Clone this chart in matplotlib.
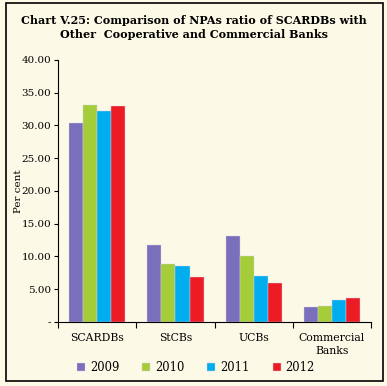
import numpy as np
import matplotlib
matplotlib.use("Agg")
import matplotlib.pyplot as plt
from matplotlib.patches import Rectangle

# data
categories = ["SCARDBs", "StCBs", "UCBs", "Commercial\nBanks"]
years = ["2009", "2010", "2011", "2012"]
npa_2009 = [30.3, 11.8, 13.1, 2.3]
npa_2010 = [33.1, 8.9, 10.1, 2.45]
npa_2011 = [32.2, 8.6, 7.0, 3.3]
npa_2012 = [33.0, 6.8, 5.9, 3.7]
series = [npa_2009, npa_2010, npa_2011, npa_2012]
colors = ["#7a6fba", "#a4cd39", "#00aeef", "#ed1c24"]
yticks = [0, 5, 10, 15, 20, 25, 30, 35, 40]
ytick_labels = ["-"] + ["%.2f" % v for v in yticks[1:]]

bg = "#fdf9e7"
plt.rcParams["font.family"] = ["DejaVu Serif"]

fig = plt.figure(figsize=(3.87, 3.86), dpi=100)
fig.patch.set_facecolor(bg)
fig.patches.append(Rectangle((6 / 387, 5 / 386), 377 / 387, 378 / 386,
                             transform=fig.transFigure, fill=False,
                             edgecolor="black", linewidth=1.2))

ax = fig.add_axes([0.150, 0.166, 0.809, 0.679])
ax.set_facecolor(bg)

x = np.arange(len(categories))
w = 0.18
for i, (vals, c, yr) in enumerate(zip(series, colors, years)):
    ax.bar(x + (i - 1.5) * w, vals, width=w, color=c, label=yr,
           edgecolor="#d8d0e8", linewidth=0.3)

ax.set_xlim(-0.5, len(categories) - 0.5)
ax.set_ylim(0, 40)
ax.set_yticks(yticks)
ax.set_yticklabels(ytick_labels, fontsize=7.5)
ax.set_ylabel("Per cent", fontsize=7.5)
ax.yaxis.set_label_coords(-0.112, 0.5)

ax.set_xticks(np.arange(-0.5, len(categories), 1.0))
ax.set_xticklabels([])
ax.set_xticks(x, minor=True)
ax.set_xticklabels(categories, minor=True, fontsize=7.8, linespacing=1.35)
ax.tick_params(axis="x", which="minor", length=0, pad=8)
ax.tick_params(axis="x", which="major", length=4, direction="out")
ax.tick_params(axis="y", length=3, direction="out", pad=2)

for s in ["top", "right"]:
    ax.spines[s].set_visible(False)

ax.legend(loc="center", bbox_to_anchor=(0.44, -0.173), ncol=4,
          frameon=False, fontsize=8.3, handlelength=0.7, handleheight=0.7,
          columnspacing=2.0, handletextpad=0.4)

fig.text(0.5, 0.948, "Chart V.25: Comparison of NPAs ratio of SCARDBs with",
         ha="center", va="center", fontsize=8.0, fontweight="bold")
fig.text(0.5, 0.911, "Other  Cooperative and Commercial Banks",
         ha="center", va="center", fontsize=8.0, fontweight="bold")

fig.savefig("out.png", dpi=100, facecolor=bg)
